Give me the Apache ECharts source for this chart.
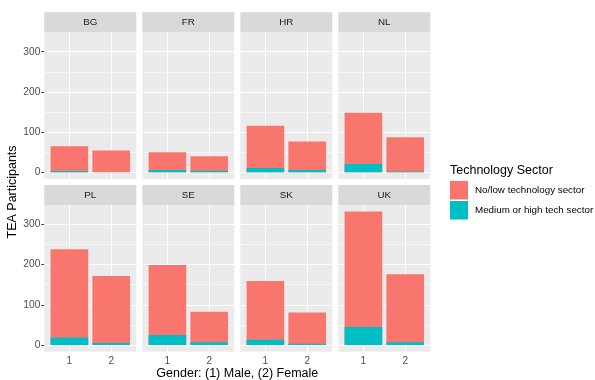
<!DOCTYPE html>
<html>
<head>
<meta charset="utf-8">
<script src="https://cdn.jsdelivr.net/npm/echarts@6/dist/echarts.min.js"></script>
<style>html,body{margin:0;padding:0;background:#fff;}#c{width:595px;height:380px;}</style>
</head>
<body>
<div id="c"></div>
<script>
// ---- data ----
const countries = ['BG', 'FR', 'HR', 'NL', 'PL', 'SE', 'SK', 'UK'];
const genders = [1, 2];
const lowMale    = [62, 44, 105, 127, 219, 174, 146, 287];
const lowFemale  = [54, 36, 71, 85, 167, 76, 78, 169];
const highMale   = [3, 6, 11, 21, 19, 25, 13, 45];
const highFemale = [0, 4, 6, 2, 5, 7, 3, 7];
const yTicks = [0, 100, 200, 300];
const yMinor = [50, 150, 250];
const seriesNames = ['No/low technology sector', 'Medium or high tech sector'];
const colors = ['#F8766D', '#00BFC4'];

// ---- layout ----
const FONT = 'Liberation Sans, Arial, sans-serif';
const panelLeft = 44.3, panelW = 92, gapX = 6;
const rowTops = [32.2, 204.9], panelH = 146.8, stripH = 20;
const totMale = lowMale.map((v, i) => v + highMale[i]);
const totFemale = lowFemale.map((v, i) => v + highFemale[i]);
const maxTotal = Math.max(...totMale, ...totFemale);
const yMin = -0.05 * maxTotal, yMax = maxTotal * 1.05;
const barW = 0.9 * panelW / 2.2;

const grids = [], xAxes = [], yAxes = [], series = [], graphics = [];
countries.forEach((c, i) => {
  const row = Math.floor(i / 4), col = i % 4;
  const left = panelLeft + col * (panelW + gapX);
  const top = rowTops[row];
  grids.push({ left: left, top: top, width: panelW, height: panelH, backgroundColor: '#EBEBEB', show: true, borderWidth: 0 });
  const isBottom = row === 1, isLeft = col === 0;
  xAxes.push({
    type: 'value', gridIndex: i, min: 0.4, max: 2.6,
    axisLine: { show: false }, splitLine: { show: false },
    axisTick: { show: isBottom, customValues: genders, length: 3, lineStyle: { color: '#333333', width: 1 } },
    axisLabel: { show: isBottom, customValues: genders, color: '#4D4D4D', fontSize: 10, fontFamily: FONT, margin: 5 }
  });
  yAxes.push({
    type: 'value', gridIndex: i, min: yMin, max: yMax,
    axisLine: { show: false }, splitLine: { show: false },
    axisTick: { show: isLeft, customValues: yTicks, length: 3, lineStyle: { color: '#333333', width: 1 } },
    axisLabel: { show: isLeft, customValues: yTicks, color: '#4D4D4D', fontSize: 10.2, fontFamily: FONT, margin: 4 }
  });
  // grid lines (panel background)
  series.push({
    type: 'line', xAxisIndex: i, yAxisIndex: i, data: [], z: 1, silent: true,
    markLine: {
      silent: true, symbol: 'none', animation: false, label: { show: false }, z: 1,
      data: [
        ...yMinor.map(v => ({ yAxis: v, lineStyle: { color: '#FFFFFF', width: 0.6, type: 'solid', opacity: 1 } })),
        ...yTicks.map(v => ({ yAxis: v, lineStyle: { color: '#FFFFFF', width: 1.1, type: 'solid', opacity: 1 } })),
        ...genders.map(v => ({ xAxis: v, lineStyle: { color: '#FFFFFF', width: 1.1, type: 'solid', opacity: 1 } }))
      ]
    }
  });
  // stacked bars: full-height (total) bar in No/low colour, Medium/high segment drawn on its base
  series.push({
    name: seriesNames[0], type: 'bar', xAxisIndex: i, yAxisIndex: i, z: 10,
    barWidth: barW, barGap: '-100%', itemStyle: { color: colors[0] },
    data: [[1, totMale[i]], [2, totFemale[i]]]
  });
  series.push({
    name: seriesNames[1], type: 'bar', xAxisIndex: i, yAxisIndex: i, z: 11,
    barWidth: barW, barGap: '-100%', itemStyle: { color: colors[1] },
    data: [[1, highMale[i]], [2, highFemale[i]]]
  });
  // strip
  graphics.push({
    type: 'rect', shape: { x: left, y: top - stripH, width: panelW, height: stripH },
    style: { fill: '#D9D9D9' }, silent: true
  });
  graphics.push({
    type: 'text', x: left + panelW / 2, y: top - stripH / 2,
    style: { text: c, fill: '#1A1A1A', font: '9.8px ' + FONT, align: 'center', verticalAlign: 'middle' }, silent: true
  });
});

graphics.push({
  type: 'text', x: 13, y: (rowTops[0] + rowTops[1] + panelH) / 2, rotation: Math.PI / 2,
  style: { text: 'TEA Participants', fill: '#000000', font: '12.5px ' + FONT, align: 'center', verticalAlign: 'middle' }, silent: true
});
graphics.push({
  type: 'text', x: panelLeft + (4 * panelW + 3 * gapX) / 2, y: 373.5,
  style: { text: 'Gender: (1) Male, (2) Female', fill: '#000000', font: '12.5px ' + FONT, align: 'center', verticalAlign: 'middle' }, silent: true
});
graphics.push({
  type: 'text', x: 450, y: 170.5,
  style: { text: 'Technology Sector', fill: '#000000', font: '12.5px ' + FONT, align: 'left', verticalAlign: 'middle' }, silent: true
});

const chart = echarts.init(document.getElementById('c'), null, { renderer: 'canvas' });
chart.setOption({
  animation: false,
  backgroundColor: '#FFFFFF',
  grid: grids, xAxis: xAxes, yAxis: yAxes, series: series,
  legend: {
    data: seriesNames, orient: 'vertical', left: 450, top: 181,
    itemWidth: 18, itemHeight: 18.5, itemGap: 1.5, icon: 'rect', padding: 0,
    textStyle: { fontSize: 9.8, fontFamily: FONT, color: '#000000', padding: [0, 0, 0, 2] },
    selectedMode: false
  },
  graphic: graphics
});
</script>
</body>
</html>
